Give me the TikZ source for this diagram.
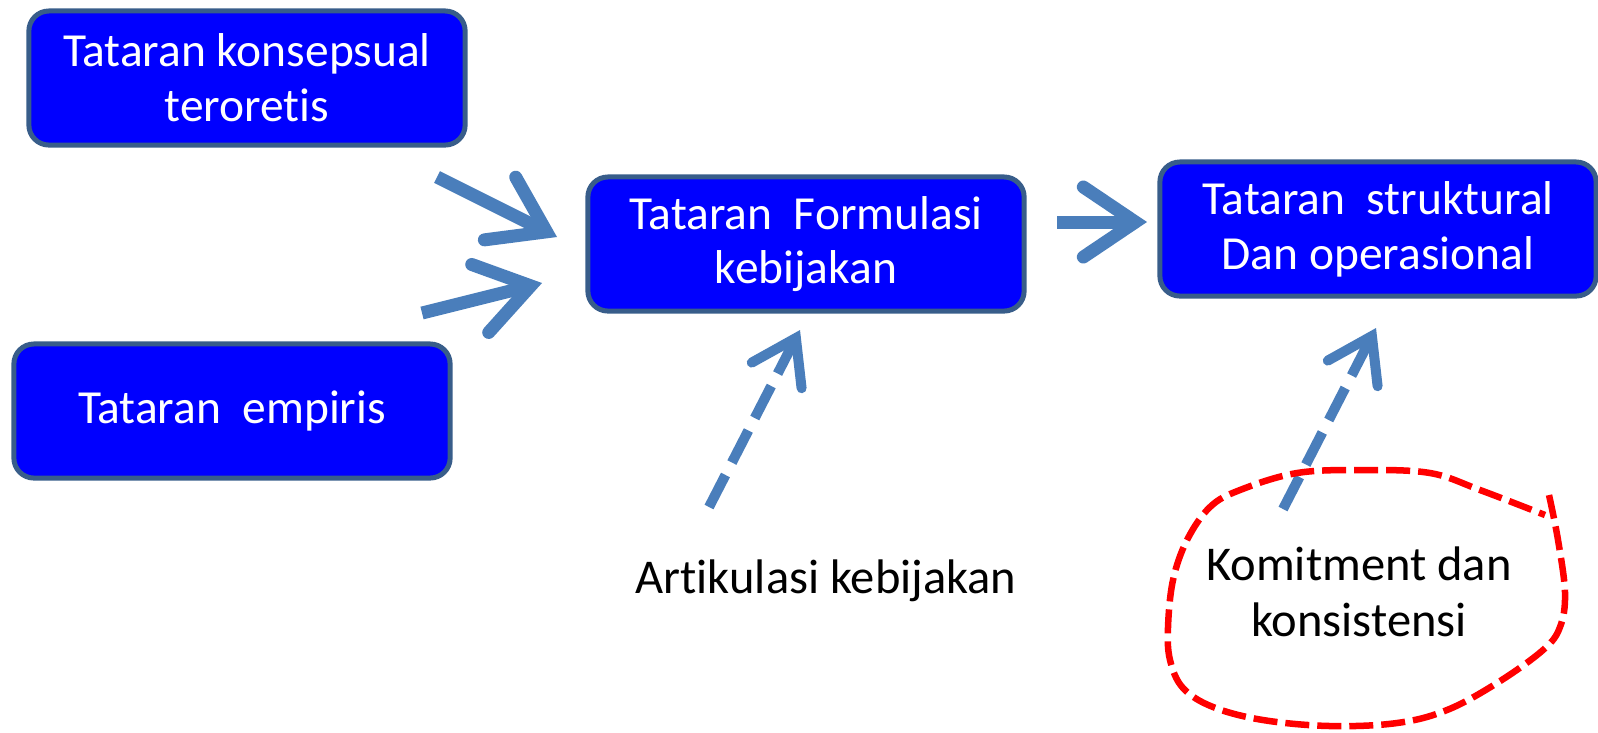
\documentclass[tikz,border=0pt]{standalone}
\usepackage{fontspec}
\setmainfont{Carlito}[Ligatures=NoCommon]
\usetikzlibrary{arrows.meta}
\definecolor{boxblue}{HTML}{0000FF}
\definecolor{boxedge}{HTML}{385D8A}
\definecolor{arrowblue}{HTML}{4A7EBB}
\tikzset{
  box/.style={draw=boxedge,line width=0.05cm,fill=boxblue,text=white,rounded corners=0.2cm,
    minimum width=4.36cm,minimum height=1.34cm,align=center,inner sep=0pt,
    font=\fontsize{13.5}{15.6}\selectfont},
  flow/.style={arrowblue,line width=0.13cm,-{Straight Barb[length=0.52cm,width=0.7cm,line cap=round]}},
  dflow/.style={arrowblue,line width=0.1cm,dash pattern=on 0.36cm off 0.14cm,
    -{Straight Barb[length=0.42cm,width=0.56cm,line cap=round]}},
  note/.style={font=\fontsize{13.8}{15.8}\selectfont,align=center},
  blob/.style={red,line width=0.065cm,dash pattern=on 0.24cm off 0.08cm}
}
\begin{document}
\begin{tikzpicture}[x=0.01cm,y=-0.01cm]
\useasboundingbox (0,0) rectangle (1598,732);
\node[box] (konsep)at(247,78){Tataran konsepsual\\teroretis};
\node[box] (empiris)at(232,411){Tataran~~empiris};
\node[box] (formulasi)at(806,244){Tataran~~Formulasi\\kebijakan};
\node[box] (struktur)at(1378,229){Tataran~~struktural\\Dan operasional};
\node[note,anchor=base] (artikulasi)at(826,593){Artikulasi kebijakan};
\node[note] (komitmen)at(1359,592){Komitment dan\\konsistensi};
% arrow ends
\coordinate (k0) at (437,177); \coordinate (k1) at (557,237);
\coordinate (e0) at (422,313); \coordinate (e1) at (542,283);
\coordinate (f0) at (1057,222); \coordinate (f1) at (1147,222);
\coordinate (a0) at (709,507); \coordinate (a1) at (800,330);
\coordinate (c0) at (1283,509); \coordinate (c1) at (1376,328);
\draw[flow] (k0)--(k1);
\draw[flow] (e0)--(e1);
\draw[flow] (f0)--(f1);
\draw[dflow] (a0)--(a1);
\draw[dflow] (c0)--(c1);
\draw[blob] plot[smooth,tension=0.6] coordinates {(1549,495) (1558,540) (1565,593) (1560,627)
  (1543,650) (1497,683) (1447,710) (1397,723) (1330,726) (1263,720) (1213,707) (1183,688)
  (1170,660) (1168,627) (1173,580) (1187,540) (1210,507) (1240,490) (1297,473) (1363,470)
  (1430,473) (1480,490) (1545,515)};
\end{tikzpicture}
\end{document}
